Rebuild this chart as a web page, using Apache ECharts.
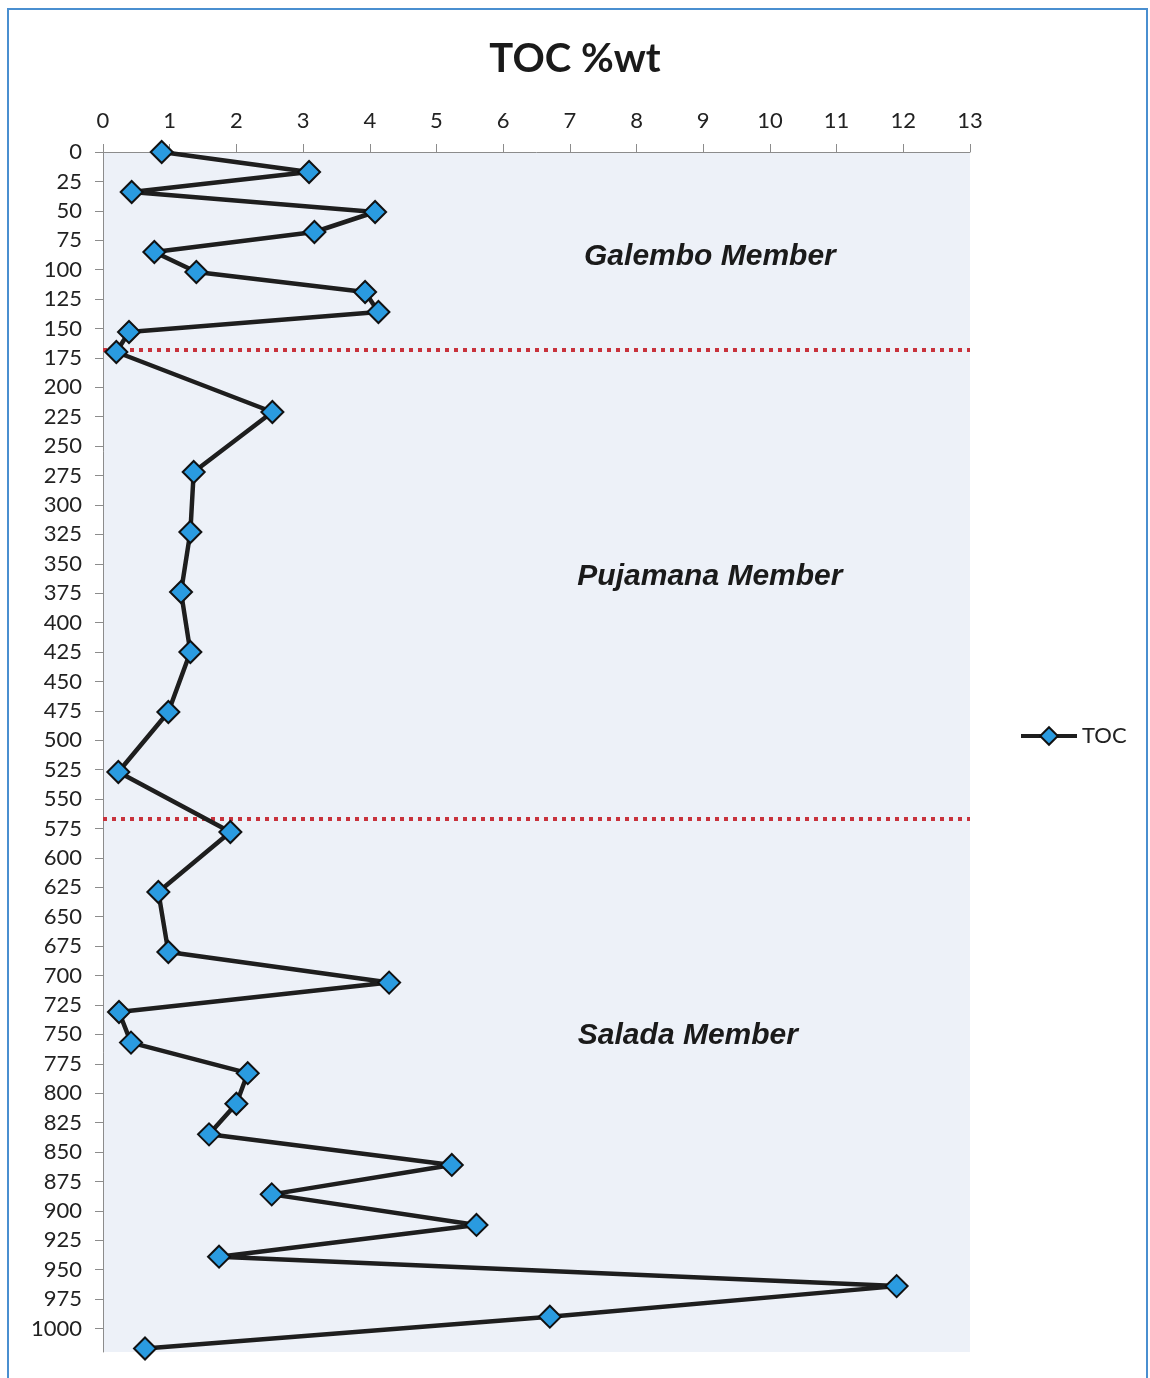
<!DOCTYPE html>
<html><head><meta charset="utf-8">
<script src="https://cdn.jsdelivr.net/npm/echarts@6/dist/echarts.min.js"></script>
<style>html,body{margin:0;padding:0;background:#fff;overflow:hidden}#c{width:1150px;height:1378px}</style>
</head><body><div id="c"></div>
<script>
// TOC (%wt) read at each sample depth
const tocValues = [0.88, 3.09, 0.43, 4.08, 3.17, 0.77, 1.40, 3.93, 4.13, 0.39, 0.20,
  2.54, 1.36, 1.31, 1.17, 1.31, 0.98, 0.23, 1.91, 0.83, 0.98,
  4.29, 0.24, 0.42, 2.17, 2.00, 1.59, 5.23, 2.53, 5.60, 1.74, 11.90, 6.70, 0.63];
const sampleDepths = [0, 17, 34, 51, 68, 85, 102, 119, 136, 153, 170,
  221, 272, 323, 374, 425, 476, 527, 578, 629, 680,
  706, 731, 757, 783, 809, 835, 861, 886, 912, 939, 964, 990, 1017];
const depthTicks = [0, 25, 50, 75, 100, 125, 150, 175, 200, 225, 250, 275, 300, 325, 350, 375, 400,
  425, 450, 475, 500, 525, 550, 575, 600, 625, 650, 675, 700, 725, 750, 775, 800, 825, 850,
  875, 900, 925, 950, 975, 1000];
const memberBoundaries = [168, 567];
const memberNames = ['Galembo Member', 'Pujamana Member', 'Salada Member'];
const memberLabelToc = [9.1, 9.1, 8.77];
const memberLabelDepth = [89, 361, 751];
const seriesName = 'TOC';
const chartTitle = 'TOC %wt';

const chart = echarts.init(document.getElementById('c'), null, {renderer: 'canvas'});
const pts = sampleDepths.map((d, i) => [tocValues[i], d]);
const axisFont = 'Lato, "Open Sans", sans-serif';

chart.setOption({
  backgroundColor: '#ffffff',
  animation: false,
  title: {
    text: chartTitle, left: 'center', top: 34,
    textStyle: {fontFamily: axisFont, fontSize: 40, fontWeight: 'bold', color: '#1a1a1a'}
  },
  graphic: [{
    type: 'rect', shape: {x: 8, y: 9, width: 1139, height: 1385},
    style: {fill: 'none', stroke: '#4a8fd0', lineWidth: 2}, silent: true, z: 100
  }],
  legend: {
    data: [seriesName], left: 1014, top: 720, itemWidth: 56, itemHeight: 22,
    lineStyle: {width: 4, color: '#1e1e1e'},
    textStyle: {fontFamily: axisFont, fontSize: 22, color: '#222'}
  },
  grid: {
    left: 103, right: 180, top: 152, bottom: 26, show: true,
    backgroundColor: '#edf1f8', borderWidth: 0
  },
  xAxis: {
    type: 'value', position: 'top', min: 0, max: 13, interval: 1,
    axisLine: {show: true, lineStyle: {color: '#8c8c8c', width: 1}},
    axisTick: {show: true, length: 8, lineStyle: {color: '#8c8c8c'}},
    axisLabel: {fontFamily: axisFont, fontSize: 22, color: '#222', margin: 20},
    splitLine: {show: false}
  },
  yAxis: {
    type: 'value', inverse: true, min: 0, max: 1020, interval: 25,
    axisLine: {show: true, lineStyle: {color: '#8c8c8c', width: 1}},
    axisTick: {show: true, length: 8, lineStyle: {color: '#8c8c8c'}, customValues: depthTicks},
    axisLabel: {fontFamily: axisFont, fontSize: 22, color: '#222', margin: 21,
      customValues: depthTicks, formatter: v => String(v)},
    splitLine: {show: false}
  },
  series: [{
    name: seriesName, type: 'line', data: pts,
    symbol: 'diamond', symbolSize: 22, showAllSymbol: true,
    lineStyle: {color: '#1e1e1e', width: 4.5},
    itemStyle: {color: '#2a9be0', borderColor: '#111', borderWidth: 2},
    z: 5,
    markLine: {
      silent: true, symbol: ['none', 'none'],
      lineStyle: {color: '#c8323c', width: 4, type: [4, 5]},
      label: {show: false},
      data: memberBoundaries.map(v => ({yAxis: v}))
    },
    markPoint: {
      silent: true, symbol: 'rect', symbolSize: 1,
      itemStyle: {color: 'rgba(0,0,0,0)'},
      label: {
        show: true, position: 'inside', formatter: p => p.name,
        fontFamily: '"Liberation Sans", Arial, sans-serif', fontSize: 30,
        fontStyle: 'italic', fontWeight: 'bold', color: '#1a1a1a'
      },
      data: memberNames.map((n, i) => ({name: n, coord: [memberLabelToc[i], memberLabelDepth[i]]}))
    }
  }]
});
</script></body></html>
